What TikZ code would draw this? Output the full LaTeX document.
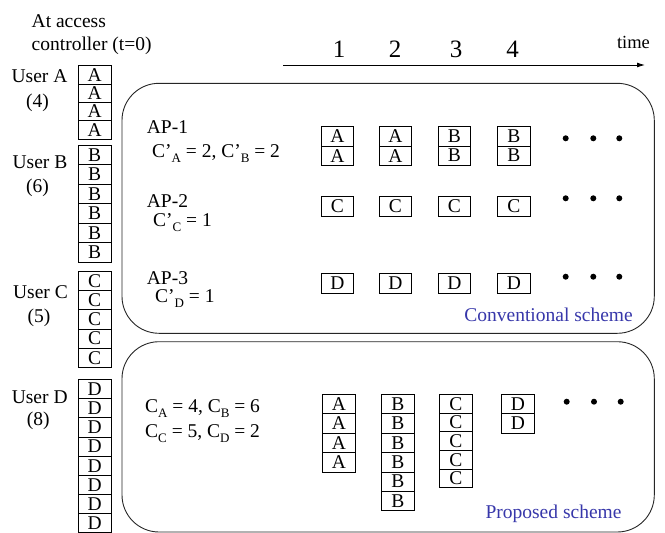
\documentclass[tikz,border=0pt]{standalone}
\usepackage{fontspec}
\setmainfont{Liberation Serif}
\usetikzlibrary{arrows.meta}
\definecolor{schemeblue}{RGB}{55,55,170}
% lowered, smaller index letter after C or C'
\newcommand{\idx}[1]{\raisebox{-0.3em}{\fontsize{13}{13}\selectfont #1}}
\begin{document}
\begin{tikzpicture}[x=1pt,y=-1pt,
  every node/.style={font=\fontsize{19.5}{22}\selectfont},
  cell/.style={draw, line width=0.8pt, minimum width=32.5pt, minimum height=#1, inner sep=0pt},
  cell/.default=19.3pt,
  panel/.style={draw=black!85, line width=0.9pt, rounded corners=37pt, minimum width=532.3pt, inner sep=0pt},
  dot/.style={circle, fill=black, inner sep=0pt, minimum size=6pt},
  lbl/.style={anchor=base, inner sep=0pt},
  lblw/.style={anchor=base west, inner sep=0pt},
  scheme/.style={anchor=base east, inner sep=0pt, text=schemeblue}]
\useasboundingbox (0,0) rectangle (665,533);

% header
\node[lblw] (hd1) at (31.5,27) {At access};
\node[lblw] (hd2) at (31.5,50) {controller (t=0)};

% time axis
\coordinate (t0) at (283,65);
\coordinate (t1) at (645,65);
\draw[line width=0.9pt, -{Latex[length=8pt,width=5pt]}] (t0) -- (t1);
\node[lbl, font=\fontsize{18.5}{20}\selectfont] (tm) at (633.5,48) {time};
\node[lbl, font=\fontsize{25}{28}\selectfont] (n1) at (339,57.3) {1};
\node[lbl, font=\fontsize{25}{28}\selectfont] (n2) at (395,57.3) {2};
\node[lbl, font=\fontsize{25}{28}\selectfont] (n3) at (456,57.3) {3};
\node[lbl, font=\fontsize{25}{28}\selectfont] (n4) at (512.5,57.3) {4};

% users and their queues at the access controller
\node[lbl] (uA) at (39.5,82) {User A};
\node[lbl] (cA) at (37.5,107) {(4)};
\node[lbl] (uB) at (40,168) {User B};
\node[lbl] (cB) at (37.5,192.7) {(6)};
\node[lbl] (uC) at (40.5,298) {User C};
\node[lbl] (cC) at (39,322) {(5)};
\node[lbl] (uD) at (39.7,403) {User D};
\node[lbl] (cD) at (38.3,425) {(8)};

\foreach \i in {1,...,4} \node[cell=18.33pt] (qa\i) at (94.7,{65.7+18.33*(\i-0.5)}) {A};
\foreach \i in {1,...,6} \node[cell=19.5pt] (qb\i) at (94.7,{145.3+19.5*(\i-0.5)}) {B};
\foreach \i in {1,...,5} \node[cell=19.3pt] (qc\i) at (94.7,{271+19.3*(\i-0.5)}) {C};
\foreach \i in {1,...,8} \node[cell=19.15pt] (qd\i) at (94.7,{379.5+19.15*(\i-0.5)}) {D};

% conventional scheme
\node[panel, minimum height=250pt] (conv) at (388.15,208.3) {};
\node[lblw] (ap1) at (146.7,133) {AP-1};
\node[lblw] (ap1c) at (152,157) {C’\idx{A} = 2, C’\idx{B} = 2};
\node[lblw] (ap2) at (146.7,207) {AP-2};
\node[lblw] (ap2c) at (153,226) {C’\idx{C} = 1};
\node[lblw] (ap3) at (146.7,284) {AP-3};
\node[lblw] (ap3c) at (155,302) {C’\idx{D} = 1};

\node[cell] (k1a) at (337.4,136.3) {A};
\node[cell] (k1b) at (337.4,155.6) {A};
\node[cell] (k2a) at (395.5,136.3) {A};
\node[cell] (k2b) at (395.5,155.6) {A};
\node[cell] (k3a) at (454.5,136.3) {B};
\node[cell] (k3b) at (454.5,155.6) {B};
\node[cell] (k4a) at (513.9,136.3) {B};
\node[cell] (k4b) at (513.9,155.6) {B};

\node[cell] (m1) at (337.4,206.3) {C};
\node[cell] (m2) at (395.5,206.3) {C};
\node[cell] (m3) at (454.5,206.3) {C};
\node[cell] (m4) at (513.9,206.3) {C};

\node[cell] (r1) at (337.4,283.5) {D};
\node[cell] (r2) at (395.5,283.5) {D};
\node[cell] (r3) at (454.5,283.5) {D};
\node[cell] (r4) at (513.9,283.5) {D};

\foreach \y [count=\j] in {138.3,198.3,276.7} {
  \node[dot] (e\j a) at (565.7,\y) {};
  \node[dot] (e\j b) at (593.3,\y) {};
  \node[dot] (e\j c) at (619.3,\y) {};
}
\node[scheme] (convl) at (633,321) {Conventional scheme};

% proposed scheme
\node[panel, minimum height=190.3pt] (prop) at (388.15,436.85) {};
\node[lblw] (pc1) at (145,412) {C\idx{A} = 4, C\idx{B} = 6};
\node[lblw] (pc2) at (145,437) {C\idx{C} = 5, C\idx{D} = 2};

\foreach \i in {1,...,4} \node[cell=19.4pt] (sa\i) at (338.9,{394.3+19.4*(\i-0.5)}) {A};
\foreach \i in {1,...,6} \node[cell=19.4pt] (sb\i) at (397.9,{394.3+19.4*(\i-0.5)}) {B};
\foreach \i in {1,...,5} \node[cell=18.7pt] (sc\i) at (455.8,{394.3+18.7*(\i-0.5)}) {C};
\foreach \i in {1,...,2} \node[cell=19.4pt] (sd\i) at (518,{394.3+19.4*(\i-0.5)}) {D};

\node[dot] (f1) at (566.7,401.7) {};
\node[dot] (f2) at (594,401.7) {};
\node[dot] (f3) at (620.7,401.7) {};
\node[scheme] (propl) at (621.7,518) {Proposed scheme};
\end{tikzpicture}
\end{document}
